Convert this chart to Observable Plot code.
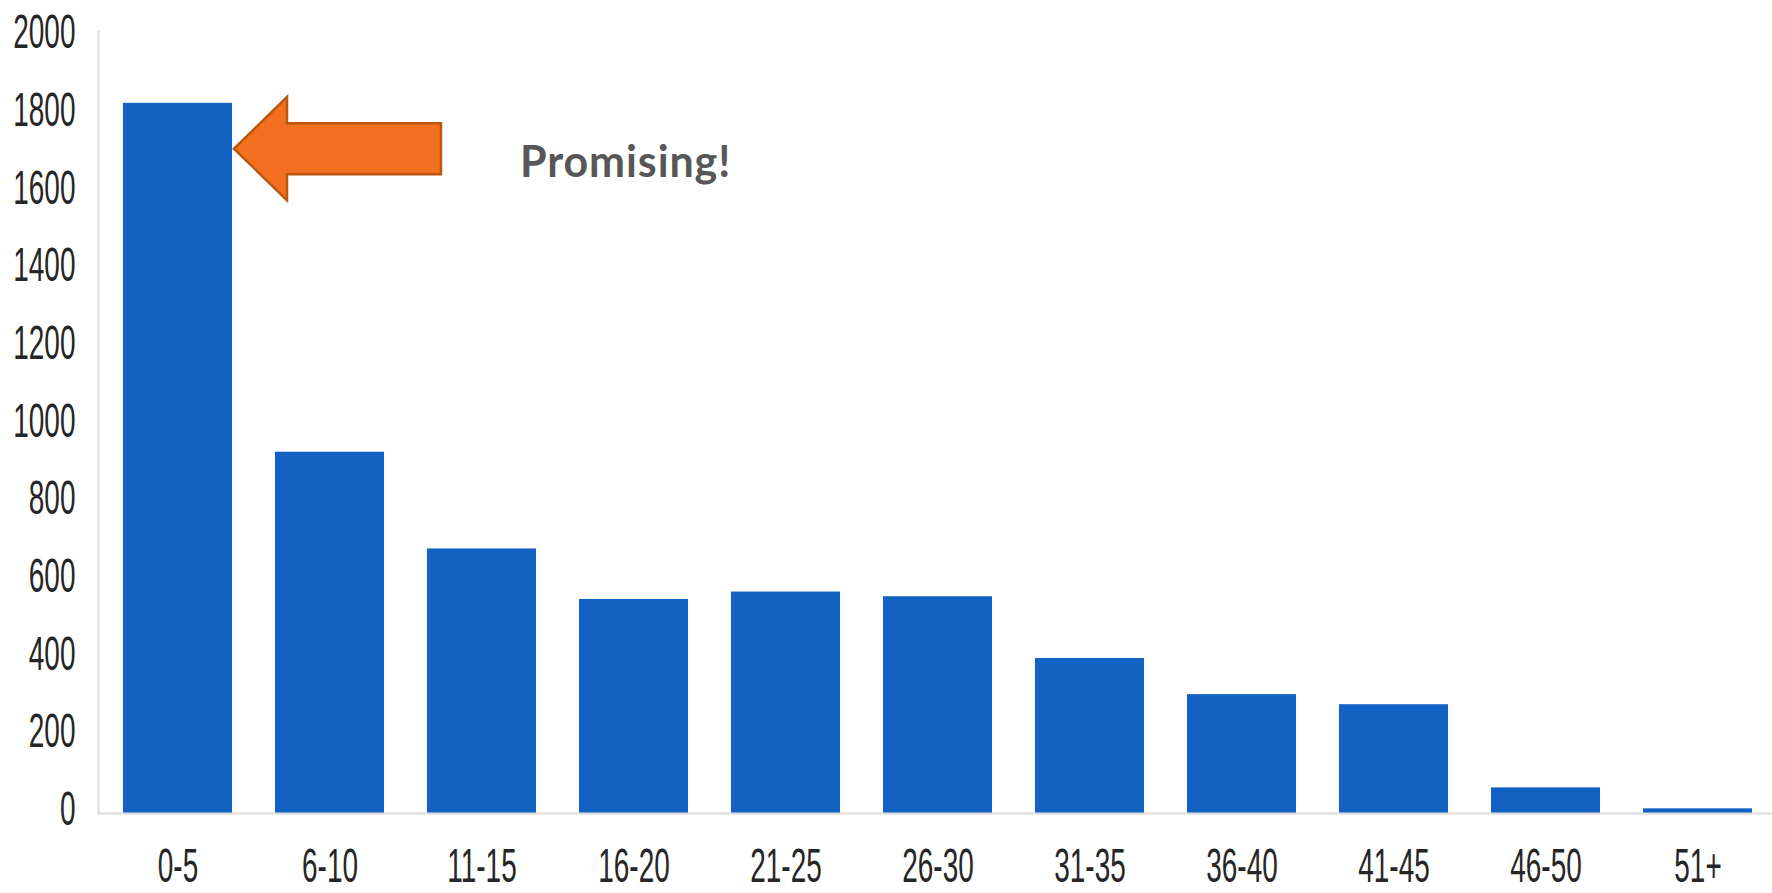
<!DOCTYPE html>
<html>
<head>
<meta charset="utf-8">
<script src="https://cdn.jsdelivr.net/npm/d3@7"></script>
<script src="https://cdn.jsdelivr.net/npm/@observablehq/plot@0.6"></script>
<style>
  html, body { margin: 0; padding: 0; background: #ffffff; }
  #chart svg { display: block; }
</style>
</head>
<body>
<div id="chart"></div>
<script>
// ---- data ----
const categories = ["0-5", "6-10", "11-15", "16-20", "21-25", "26-30", "31-35", "36-40", "41-45", "46-50", "51+"];
const counts     = [1828, 930, 681, 551, 570, 558, 399, 306, 280, 66, 12];
const yTicks     = [0, 200, 400, 600, 800, 1000, 1200, 1400, 1600, 1800, 2000];
const annotationCategory = "0-5";
const annotationValue = 1710;
const annotationText = "Promising!";

const data = categories.map((c, i) => ({category: c, count: counts[i]}));
const annotation = [{category: annotationCategory, value: annotationValue, label: annotationText}];

const tickFont = "'Liberation Sans', Arimo, Arial, Helvetica, sans-serif";
const stretch = 1.75;

// custom annotation mark: arrow pointing at a bar, plus label
function arrowMark(anno) {
  return (index, scales, values, dimensions, context) => {
    const g = d3.create("svg:g").attr("class", "annotation");
    const xs = scales.x, ys = scales.y;
    const bw = typeof xs.bandwidth === "function" ? xs.bandwidth() : (xs.bandwidth || 0);
    for (const a of anno) {
      const tx = xs(a.category) + bw + 2;
      const ty = ys(a.value);
      const head = 53, headH = 51.7, shaftH = 25.5, len = 207;
      const pts = [[0, 0], [head, -headH], [head, -shaftH], [len, -shaftH], [len, shaftH], [head, shaftH], [head, headH]]
        .map(([dx, dy]) => `${tx + dx},${ty + dy}`).join(" ");
      g.append("polygon")
        .attr("points", pts)
        .attr("fill", "#F37021")
        .attr("stroke", "#B9560F")
        .attr("stroke-width", 2.5)
        .attr("stroke-linejoin", "miter");
      g.append("text")
        .attr("x", tx + 286)
        .attr("y", ty + 28.4)
        .attr("text-anchor", "start")
        .attr("font-family", "Lato, 'Open Sans', sans-serif")
        .attr("font-weight", "bold")
        .attr("font-size", 43)
        .attr("letter-spacing", "0.9px")
        .attr("fill", "#575757")
        .text(a.label);
    }
    return g.node();
  };
}

const chart = Plot.plot({
  width: 1772,
  height: 893,
  marginLeft: 98,
  marginRight: 2,
  marginTop: 31,
  marginBottom: 80,
  style: {fontFamily: tickFont, color: "#262626", background: "#ffffff"},
  x: {domain: categories, range: [117.7, 1757.5], paddingInner: 0.281, paddingOuter: 0, axis: null},
  y: {domain: [0, 2000], range: [813, 36], axis: null},
  marks: [
    Plot.barY(data, {x: "category", y: "count", fill: "#1262C4"}),
    Plot.frame({anchor: "left", stroke: "#dcdcdc", strokeWidth: 2}),
    Plot.frame({anchor: "bottom", stroke: "#dcdcdc", strokeWidth: 2}),
    Plot.axisY({ticks: yTicks, tickSize: 0, tickPadding: 23, dy: -4, fontSize: 28, fontFamily: tickFont, tickFormat: d => String(d), label: null}),
    Plot.axisX({tickSize: 0, tickPadding: 34, fontSize: 28, fontFamily: tickFont, label: null}),
    arrowMark(annotation)
  ]
});

// vertically stretch the tick labels as in the reference
chart.querySelectorAll('g[aria-label="y-axis tick label"] text, g[aria-label="x-axis tick label"] text').forEach(el => {
  el.setAttribute("font-family", tickFont);
  const t = el.getAttribute("transform");
  if (t) {
    el.setAttribute("transform", t + ` scale(1,${stretch})`);
  } else {
    const x = +el.getAttribute("x") || 0, y = +el.getAttribute("y") || 0;
    el.setAttribute("transform", `translate(${x},${y}) scale(1,${stretch}) translate(${-x},${-y})`);
  }
});

document.getElementById("chart").appendChild(chart);
</script>
</body>
</html>
